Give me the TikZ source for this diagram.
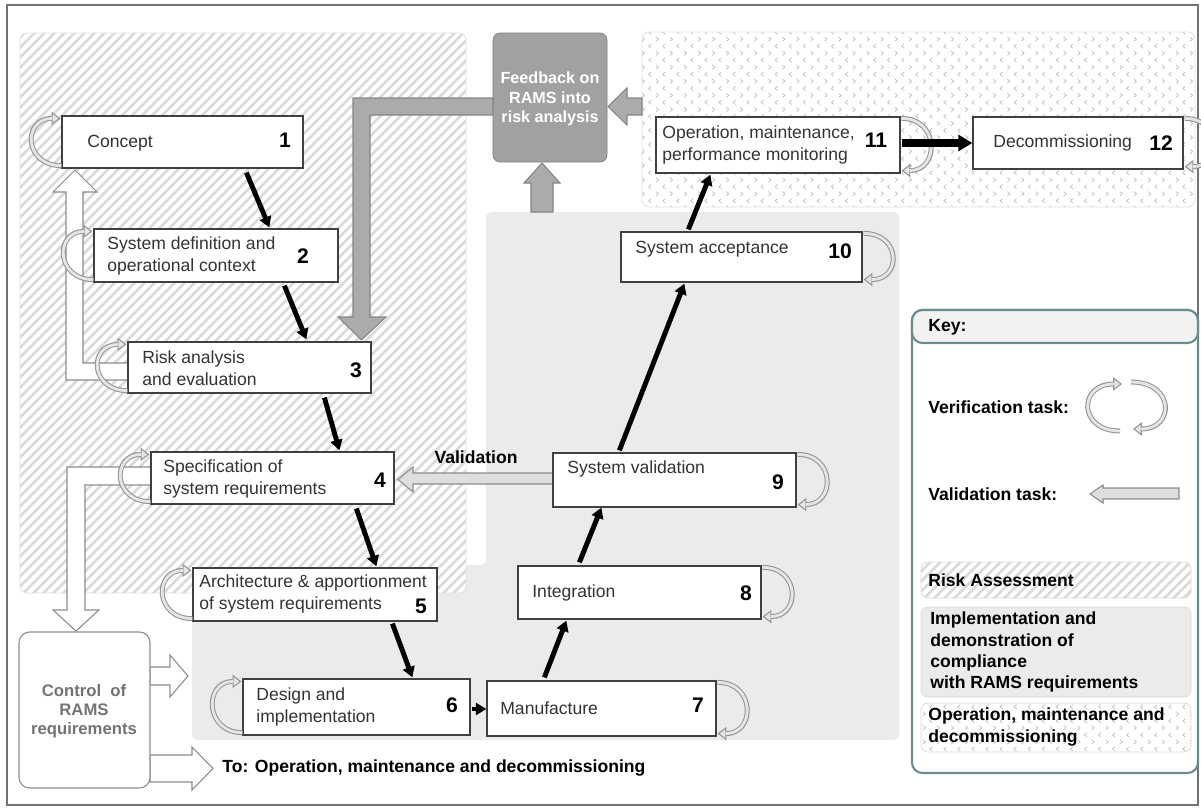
\documentclass[tikz,border=0pt]{standalone}
\usepackage{fontspec}
\setmainfont{Liberation Sans}
\usepackage{tikz}
\usetikzlibrary{calc}
\usetikzlibrary{arrows.meta,fit,patterns.meta}

\tikzdeclarepattern{
  name=chevrons,
  type=uncolored,
  bounding box={(-0.5pt,-0.5pt) and (8.5pt,8.5pt)},
  tile size={(8pt,8pt)},
  code={
    \draw[line width=0.35pt] (2.6pt,0.4pt) -- (1.2pt,1.6pt) -- (2.6pt,2.8pt);
    \draw[line width=0.35pt] (5.4pt,4.4pt) -- (6.8pt,5.6pt) -- (5.4pt,6.8pt);
  }
}

\definecolor{keyteal}{RGB}{105,140,140}

\tikzset{
  phase/.style={draw=black!75, fill=white, line width=0.7pt, inner sep=0pt},
  txt/.style={anchor=west, align=left, inner sep=0pt, text=black!80, font=\fontsize{10}{12.5}\selectfont},
  num/.style={inner sep=0pt, font=\bfseries\fontsize{12}{14}\selectfont},
  flow/.style={line width=2.8pt, -{Triangle[length=6pt,width=6.8pt]}},
  verif/.style={draw=black!42, line width=2.8pt, -{Triangle[open, fill=black!10, line width=0.6pt, length=5pt, width=7.5pt]},
    postaction={draw=black!10, line width=1.6pt, -, shorten >=4.6pt}},
  fatwhite/.style={draw=black!45, fill=white, line width=0.6pt},
  fatgrey/.style={draw=black!48, fill=black!33, line width=0.6pt},
  valid/.style={draw=black!45, fill=black!13, line width=0.6pt},
  keytxt/.style={anchor=west, align=left, inner sep=0pt, font=\bfseries\fontsize{10}{12}\selectfont},
}

\begin{document}
\begin{tikzpicture}[x=0.02cm, y=-0.02cm]

\newcommand{\verifLeft}[1]{%Node
  \draw[verif] ([shift={(0,-3)}]#1.south west) .. controls +(-38,0) and +(-38,0) .. ([shift={(-1,3)}]#1.north west);
}
\newcommand{\verifRight}[1]{%Node
  \draw[verif] ([shift={(1,2)}]#1.north east) .. controls +(38,0) and +(38,0) .. ([shift={(1,-3)}]#1.south east);
}

\path[use as bounding box] (0,0) rectangle (1201,808);
\draw[black!55, line width=0.8pt] (7,5) rectangle (1198,805);

% phase regions
\fill[black!8, rounded corners=3pt] (486,212) -- (899,212) -- (899,740) -- (192,740) -- (192,565) -- (486,565) -- cycle;
\path[draw=black!12, preaction={fill=white}, pattern={Lines[angle=45,distance=4pt,line width=1.5pt]}, pattern color=black!14, rounded corners=4pt] (20,33) rectangle (466,593);
\path[draw=black!12, preaction={fill=white}, pattern=chevrons, pattern color=black!28, rounded corners=4pt] (642,32) rectangle (1195,207);

% feedback
\node[draw=black!50, fill=black!37, rounded corners=4pt, inner sep=0pt, fit={(493,33) (607,162)}] (feedback) {};
\node[inner sep=0pt, align=center, text=white, font=\bfseries\fontsize{9.2}{11}\selectfont] (feedback-t) at (550,99) {Feedback on\\RAMS into\\risk analysis};
\draw[fatgrey] (493,98) -- (353,98) -- (353,317) -- (338,317) -- (361.5,340) -- (386,317) -- (370,317) -- (370,115) -- (493,115) -- cycle;
\draw[fatgrey] (642,98) -- (627,98) -- (627,88) -- (608,106.5) -- (627,125) -- (627,115) -- (642,115) -- cycle;
\draw[fatgrey] (531,212) -- (531,183) -- (524,183) -- (542,163) -- (560,183) -- (553,183) -- (553,212) -- cycle;

% control of RAMS requirements
\draw[fatwhite] (128,363) -- (83,363) -- (83,192) -- (97,192) -- (75,170) -- (53,192) -- (66,192) -- (66,380) -- (128,380) -- cycle;
\draw[fatwhite] (151,467) -- (67,467) -- (67,610) -- (53,610) -- (76,631) -- (99,610) -- (85,610) -- (85,485) -- (151,485) -- cycle;
\draw[fatwhite] (150,667) -- (170,667) -- (170,655) -- (188,676) -- (170,697) -- (170,685) -- (150,685) -- cycle;
\draw[fatwhite] (150,755) -- (192,755) -- (192,747) -- (213,768.5) -- (192,790) -- (192,782) -- (150,782) -- cycle;
\node[draw=black!45, fill=white, rounded corners=6pt, inner sep=0pt, line width=0.6pt, fit={(19,632) (150,788)}] (control) {};
\node[inner sep=0pt, align=center, text=black!55, font=\bfseries\fontsize{9.5}{10.8}\selectfont] (control-t) at (84,711) {Control\ \ of\\RAMS\\requirements};
\node[keytxt] (to-t) at (222,768) {To: Operation, maintenance and decommissioning};

% validation
\draw[valid] (553,473) -- (413,473) -- (413,467) -- (398,479.5) -- (413,492) -- (413,484) -- (553,484) -- cycle;
\node[inner sep=0pt, font=\bfseries\fontsize{10}{12}\selectfont] (valid-t) at (476,457) {Validation};

% phases
\node[phase, fit={(62,116) (303,168)}] (concept) {};
\node[txt] (concept-t) at (87,143) {Concept};
\node[num] (concept-n) at (285,140) {1};
\node[phase, fit={(94,229) (338,282)}] (sysdef) {};
\node[txt] (sysdef-t) at (107,256) {System definition and\\operational context};
\node[num] (sysdef-n) at (303,256) {2};
\node[phase, fit={(128,342) (371,393)}] (riskan) {};
\node[txt] (riskan-t) at (142,368) {Risk analysis\\and evaluation};
\node[num] (riskan-n) at (356,370) {3};
\node[phase, fit={(151,452) (394,504)}] (spec) {};
\node[txt] (spec-t) at (163,479) {Specification of\\system requirements};
\node[num] (spec-n) at (380,480) {4};
\node[phase, fit={(193,568) (437,621)}] (arch) {};
\node[txt] (arch-t) at (199,594) {Architecture \& apportionment\\of system requirements};
\node[num] (arch-n) at (421,606) {5};
\node[phase, fit={(243,679) (470,735)}] (design) {};
\node[txt] (design-t) at (256,707) {Design and\\implementation};
\node[num] (design-n) at (452,705) {6};
\node[phase, fit={(487,681) (716,736)}] (manuf) {};
\node[txt] (manuf-t) at (500,708) {Manufacture};
\node[num] (manuf-n) at (698,705) {7};
\node[phase, fit={(518,566) (761,619)}] (integ) {};
\node[txt] (integ-t) at (532,593) {Integration};
\node[num] (integ-n) at (746,593) {8};
\node[phase, fit={(553,453) (796,507)}] (sysval) {};
\node[txt] (sysval-t) at (567,469) {System validation};
\node[num] (sysval-n) at (778,482) {9};
\node[phase, fit={(621,232) (862,282)}] (accept) {};
\node[txt] (accept-t) at (635,249) {System acceptance};
\node[num] (accept-n) at (840,251) {10};
\node[phase, fit={(656,117) (900,173)}] (operate) {};
\node[txt] (operate-t) at (662,145) {Operation, maintenance,\\performance monitoring};
\node[num] (operate-n) at (876,140) {11};
\node[phase, fit={(973,117) (1183,169)}] (decom) {};
\node[txt] (decom-t) at (993,143) {Decommissioning};
\node[num] (decom-n) at (1161,143) {12};

% verification loops
\foreach \n in {concept,sysdef,riskan,spec,arch,design}
{
  \verifLeft{\n}
}
\foreach \n in {manuf,integ,sysval,accept,operate,decom}
{
  \verifRight{\n}
}

% life-cycle flow
\draw[flow] ([shift={(185,4)}]concept.south west) -- ([shift={(176,-1)}]sysdef.north west);
\draw[flow] ([shift={(191,3)}]sysdef.south west) -- ([shift={(179,-2)}]riskan.north west);
\draw[flow] ([shift={(197,4)}]riskan.south west) -- ([shift={(189,-1)}]spec.north west);
\draw[flow] ([shift={(206,4)}]spec.south west) -- ([shift={(184,-1)}]arch.north west);
\draw[flow] ([shift={(200,2)}]arch.south west) -- ([shift={(170,-1)}]design.north west);
\draw[flow] ([shift={(1,2)}]design.east) -- ([shift={(0,2)}]design.east -| manuf.west);
\draw[flow] ([shift={(58,-3)}]manuf.north west) -- ([shift={(49,1)}]integ.south west);
\draw[flow] ([shift={(62,-3)}]integ.north west) -- ([shift={(49,0)}]sysval.south west);
\draw[flow] ([shift={(67,-2)}]sysval.north west) -- ([shift={(64,1)}]accept.south west);
\draw[flow] ([shift={(68,-2)}]accept.north west) -- ([shift={(55,1)}]operate.south west);
\draw[line width=5pt, -{Triangle[length=8pt,width=9pt]}] ([shift={(1,-2)}]operate.east) -- ([shift={(0,-2)}]operate.east -| decom.west);

% key
\node[draw=keyteal, line width=1.2pt, rounded corners=6pt, inner sep=0pt, fit={(912,310) (1198,773)}] (key) {};
\node[draw=keyteal, fill=black!5, line width=1.2pt, rounded corners=6pt, inner sep=0pt, fit={(912,310) (1198,343)}] (key-head) {};
\node[keytxt] (key-t) at (928,327) {Key:};
\node[keytxt] (verif-t) at (928,407) {Verification task:};
\draw[verif] (1120,431) .. controls (1078,431) and (1078,384) .. (1122,384);
\draw[verif] (1131,382) .. controls (1175,382) and (1175,429) .. (1133,429);
\node[keytxt] (validkey-t) at (928,494) {Validation task:};
\draw[valid] (1179,488) -- (1103,488) -- (1103,485) -- (1090,494) -- (1103,503) -- (1103,499) -- (1179,499) -- cycle;
\path[draw=black!15, preaction={fill=white}, pattern={Lines[angle=45,distance=4pt,line width=1.5pt]}, pattern color=black!14, rounded corners=4pt] (921,562) rectangle (1191,598);
\node[keytxt] (riskkey-t) at (928,580) {Risk Assessment};
\path[draw=black!15, fill=black!8, rounded corners=4pt] (921,607) rectangle (1191,697);
\node[keytxt] (implkey-t) at (930,652) {Implementation and\\demonstration of\\compliance\\with RAMS requirements};
\path[draw=black!15, preaction={fill=white}, pattern=chevrons, pattern color=black!28, rounded corners=4pt] (921,703) rectangle (1191,752);
\node[keytxt] (opkey-t) at (928,727) {Operation, maintenance and\\decommissioning};

\end{tikzpicture}
\end{document}
